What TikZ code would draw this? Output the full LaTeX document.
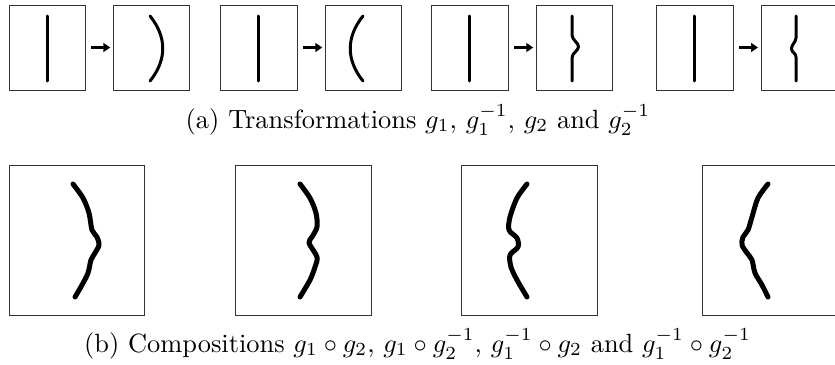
\documentclass[tikz,border=0pt]{standalone}
\usetikzlibrary{arrows.meta}
\newcommand{\myCaptionScaled}[1]{\scalebox{2.64}{#1}}
\begin{document}
\begin{tikzpicture}[x=1pt,y=-1pt,
  frame/.style={draw=black!80,line width=0.9pt,minimum width=#1,inner sep=0pt,outer sep=0pt},
  tbox/.style={frame=76.5pt,minimum height=85pt},
  bbox/.style={frame=135.5pt,minimum height=150pt},
  mapto/.style={line width=3.2pt,-{Triangle[length=7pt,width=9pt]},shorten <=5.5pt,shorten >=3pt},
  stroke/.style={line width=3pt,line cap=round,line join=round},
  bstroke/.style={line width=5pt,line cap=round,line join=round},
  captext/.style={inner sep=0pt,anchor=base}]
\useasboundingbox (0,0) rectangle (835,364);
% top row boxes
\node[tbox] (a1) at (47.25,47.5) {};
\node[tbox] (a2) at (151.5,47.5) {};
\node[tbox] (a3) at (259,47.5) {};
\node[tbox] (a4) at (363.5,47.5) {};
\node[tbox] (a5) at (470,47.5) {};
\node[tbox] (a6) at (574.5,47.5) {};
\node[tbox] (a7) at (695,47.5) {};
\node[tbox] (a8) at (799.25,47.5) {};
\draw[mapto] (a1.east) -- (a2.west);
\draw[mapto] (a3.east) -- (a4.west);
\draw[mapto] (a5.east) -- (a6.west);
\draw[mapto] (a7.east) -- (a8.west);
% strokes
\draw[stroke] (47,16) -- (47,81);
\draw[stroke] (150,16) .. controls (167,37) and (167,60) .. (150,81);
\draw[stroke] (258,16) -- (258,81);
\draw[stroke] (363,16) .. controls (346,37) and (346,60) .. (363,81);
\draw[stroke] (469,16) -- (469,81);
\draw[stroke] (572,16) -- (572,35) .. controls (572,40) and (579,43) .. (578.5,47) .. controls (578,51) and (572,53) .. (572,58) -- (572,81);
\draw[stroke] (694,16) -- (694,81);
\draw[stroke] (796,16) -- (796,38) .. controls (796,42) and (791,45) .. (791.5,49) .. controls (792,53) and (796,53) .. (796,57) -- (796,81);
\node[captext] (capa) at (418,128) {\myCaptionScaled{(a) Transformations $g_1$, $g_1^{-1}$, $g_2$ and $g_2^{-1}$}};
% bottom row
\node[bbox] (c1) at (77,240) {};
\node[bbox] (c2) at (303.5,240) {};
\node[bbox] (c3) at (529.5,240) {};
\node[bbox] (c4) at (770.5,240) {};
\draw[bstroke] plot[smooth,tension=0.5] coordinates {(73,184) (83,198) (89,213) (92,230) (97,237) (99,245) (95,253) (91,260) (88,273) (82,285) (75,297)};
\draw[bstroke] plot[smooth,tension=0.5] coordinates {(300,184) (310,198) (316,213) (317,227) (312,237) (309,243) (317,257) (315,267) (310,280) (300,297)};
\draw[bstroke] plot[smooth,tension=0.5] coordinates {(527,184) (517,198) (510,217) (509,230) (517,238) (518,247) (510,255) (511,267) (517,280) (527,297)};
\draw[bstroke] plot[smooth,tension=0.5] coordinates {(768,184) (758,198) (752,217) (748,230) (743,237) (742,245) (747,253) (752,260) (755,273) (762,285) (768,297)};
\node[captext] (capb) at (417.5,352) {\myCaptionScaled{(b) Compositions $g_1\circ g_2$, $g_1\circ g_2^{-1}$, $g_1^{-1}\circ g_2$ and $g_1^{-1}\circ g_2^{-1}$}};
\end{tikzpicture}
\end{document}
